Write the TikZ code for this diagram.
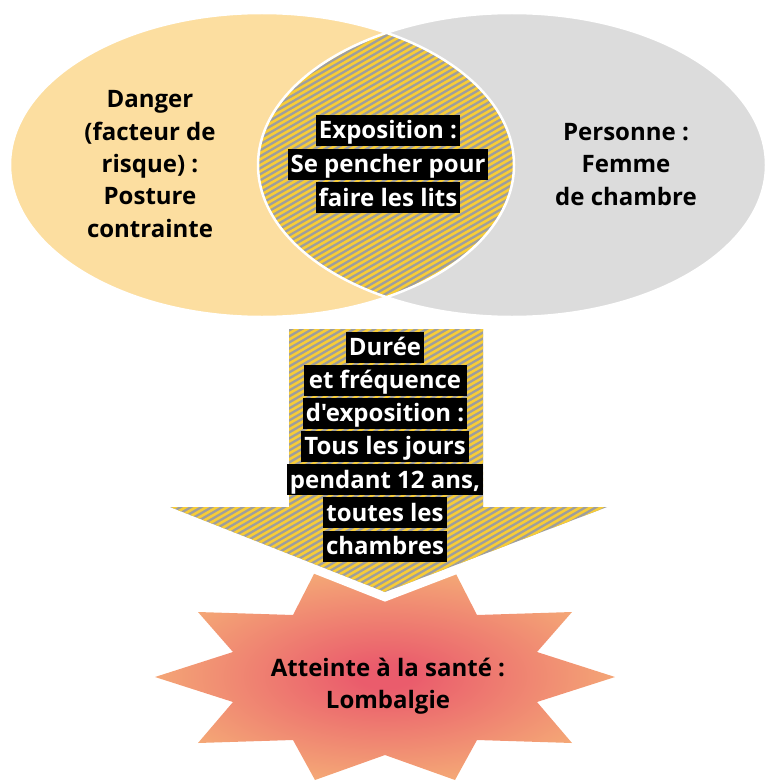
\documentclass[tikz,border=0pt]{standalone}
\usepackage{fontspec}
\setmainfont{Open Sans}[Ligatures=TeXOff]
\definecolor{peach}{RGB}{252,222,160}
\definecolor{mist}{RGB}{220,220,220}
\definecolor{hatchyellow}{RGB}{247,204,55}
\definecolor{hatchgray}{RGB}{158,158,158}
\definecolor{starIn}{RGB}{234,92,108}
\definecolor{starOut}{RGB}{246,182,120}
\pgfdeclareradialshading{starglow}{\pgfpoint{0bp}{0bp}}{color(0bp)=(starIn); color(3bp)=(starIn); color(30bp)=(starOut); color(100bp)=(starOut)}
\begin{document}
\begin{tikzpicture}[x=1pt,y=-1pt,
  txt/.style={font=\bfseries\fontsize{24}{32.4}\selectfont, align=center, text=black},
  tag/.style={fill=black, text=white, font=\bfseries\fontsize{24}{29}\selectfont,
    inner xsep=3pt, inner ysep=2pt, text height=22pt, text depth=5pt},
  stripes/.style={hatchyellow, line width=2.6pt}]
\useasboundingbox (0,0) rectangle (768,781);

% two overlapping sets
\fill[peach] (262,165) ellipse [x radius=252, y radius=152];
\fill[mist] (512,165) ellipse [x radius=254, y radius=152];

% hatched intersection
\begin{scope}
  \clip (262,165) ellipse [x radius=252, y radius=152];
  \clip (512,165) ellipse [x radius=254, y radius=152];
  \fill[hatchgray] (250,20) rectangle (525,310);
  \foreach \k in {0,...,80}
    \draw[stripes] (245,{\k*6}) -- ++(285,-164.5);
\end{scope}
\draw[white, line width=2.5pt] (262,165) ellipse [x radius=252, y radius=152];
\draw[white, line width=2.5pt] (512,165) ellipse [x radius=254, y radius=152];

% star burst
\shade[shading=starglow]
  (615,677) -- (537,652) -- (572,612) -- (477,615) -- (455,572) -- (385,600)
  -- (315,572) -- (293,615) -- (198,612) -- (233,652) -- (155,677) -- (233,702)
  -- (198,743) -- (293,740) -- (315,780) -- (385,755) -- (455,780) -- (477,740)
  -- (572,743) -- (537,702) -- cycle;

% downward arrow with white halo
\draw[white, line width=18pt, line join=miter]
  (289,329) -- (483,329) -- (483,507) -- (607,507) -- (385,592) -- (170,507)
  -- (289,507) -- cycle;
\begin{scope}
  \clip (289,329) -- (483,329) -- (483,507) -- (607,507) -- (385,592) -- (170,507)
    -- (289,507) -- cycle;
  \fill[hatchgray] (165,325) rectangle (612,596);
  \foreach \k in {50,...,150}
    \draw[stripes] (160,{\k*6}) -- ++(460,-265.6);
\end{scope}

% texts of the two sets
\node[txt] (danger) at (150,164) {Danger\\(facteur de\\risque) :\\Posture\\contrainte};
\node[txt] (personne) at (626,164.5) {Personne :\\Femme\\de chambre};

% exposure labels
\node[tag, minimum width=141pt] (expoA) at (388,130.5) {Exposition :};
\node[tag, minimum width=195pt] (expoB) at (388,164) {Se pencher pour};
\node[tag, minimum width=139pt] (expoC) at (388,197.5) {faire les lits};

% duration labels
\node[tag, minimum width=78pt]  (dureeA) at (385,347) {Durée};
\node[tag, minimum width=163pt] (dureeB) at (385,380) {et fréquence};
\node[tag, minimum width=164pt] (dureeC) at (385,413) {d'exposition :};
\node[tag, minimum width=162pt] (dureeD) at (385,446) {Tous les jours};
\node[tag, minimum width=194pt] (dureeE) at (385,479.5) {pendant 12 ans,};
\node[tag, minimum width=119pt] (dureeF) at (385,512.5) {toutes les};
\node[tag, minimum width=121pt] (dureeG) at (385,546) {chambres};

% outcome
\node[txt] (atteinte) at (388,686) {Atteinte à la santé :\\Lombalgie};
\end{tikzpicture}
\end{document}
